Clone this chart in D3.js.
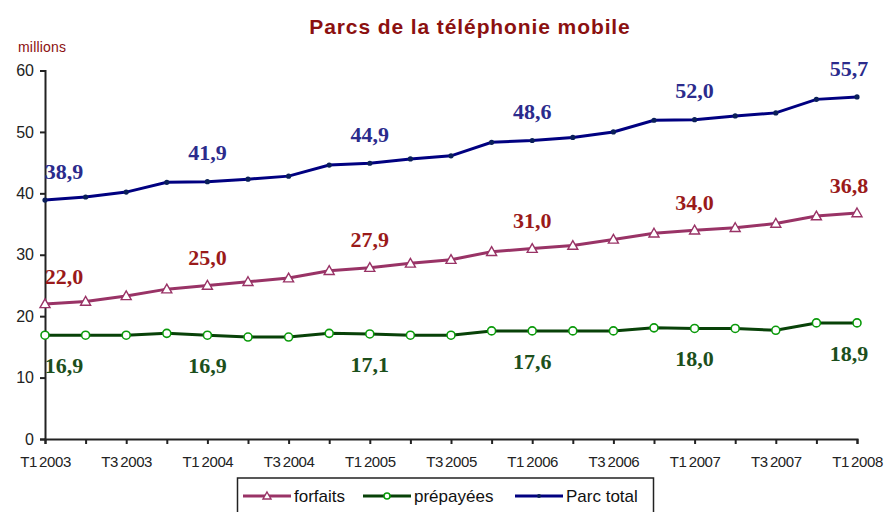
<!DOCTYPE html>
<html>
<head>
<meta charset="utf-8">
<script src="https://cdn.jsdelivr.net/npm/d3@7"></script>
<style>
  html, body { margin: 0; padding: 0; background: #fff; }
  svg { display: block; }
</style>
</head>
<body>
<div id="chart"></div>
<script>
// trimestres T1 2003 .. T1 2008
const quarters = ['T1 2003', 'T2 2003', 'T3 2003', 'T4 2003', 'T1 2004', 'T2 2004', 'T3 2004', 'T4 2004',
  'T1 2005', 'T2 2005', 'T3 2005', 'T4 2005', 'T1 2006', 'T2 2006', 'T3 2006', 'T4 2006',
  'T1 2007', 'T2 2007', 'T3 2007', 'T4 2007', 'T1 2008'];
const forfaits = [22.0, 22.4, 23.3, 24.4, 25.0, 25.6, 26.2, 27.4, 27.9, 28.6, 29.2,
  30.5, 31.0, 31.5, 32.5, 33.5, 34.0, 34.4, 35.1, 36.3, 36.8];
const prepayees = [16.9, 16.9, 16.9, 17.2, 16.9, 16.6, 16.6, 17.2, 17.1, 16.9, 16.9,
  17.6, 17.6, 17.6, 17.6, 18.1, 18.0, 18.0, 17.7, 18.9, 18.9];
const parcTotal = [38.9, 39.4, 40.2, 41.8, 41.9, 42.3, 42.8, 44.6, 44.9, 45.6, 46.1,
  48.3, 48.6, 49.1, 50.0, 51.9, 52.0, 52.6, 53.1, 55.3, 55.7];
const yTicks = [0, 10, 20, 30, 40, 50, 60];
const labelIdx = [0, 4, 8, 12, 16, 20];   // valeurs affichées : chaque T1

const W = 887, H = 512, mL = 45, mR = 30, mT = 70.5, mB = 73;
const FONT = 'Arial, "Liberation Sans", sans-serif';
const SERIF = '"Times New Roman", "Liberation Serif", serif';
const fmt = v => d3.format('.1f')(v).replace('.', ',');

const svg = d3.select('#chart').append('svg').attr('width', W).attr('height', H);
const x = d3.scalePoint().domain(d3.range(quarters.length)).range([mL, W - mR]);
const y = d3.scaleLinear().domain([0, 60]).range([H - mB, mT]);

svg.append('text').attr('x', 470).attr('y', 34).attr('text-anchor', 'middle')
  .attr('font-family', FONT).attr('font-weight', 700).attr('font-size', 21).attr('letter-spacing', 0.9)
  .attr('fill', '#8b1010').text('Parcs de la téléphonie mobile');
svg.append('text').attr('x', 18).attr('y', 52)
  .attr('font-family', FONT).attr('font-size', 14).attr('letter-spacing', 0.2)
  .attr('fill', '#8b1010').text('millions');

// axes
const yAxis = svg.append('g').attr('transform', `translate(${mL},0)`)
  .call(d3.axisLeft(y).tickValues(yTicks).tickSize(5).tickPadding(6).tickFormat(d3.format('d')));
const xAxis = svg.append('g').attr('transform', `translate(0,${H - mB})`)
  .call(d3.axisBottom(x).tickSize(5).tickPadding(12).tickFormat(i => i % 2 === 0 ? quarters[i] : ''));
[yAxis, xAxis].forEach(g => {
  g.select('.domain').attr('stroke', '#222').attr('stroke-width', 2);
  g.selectAll('.tick line').attr('stroke', '#222').attr('stroke-width', 2);
});
yAxis.selectAll('.tick text').attr('font-family', FONT).attr('font-size', 16).attr('fill', '#222');
xAxis.selectAll('.tick text').attr('font-family', FONT).attr('font-size', 15).attr('fill', '#222')
  .attr('letter-spacing', -0.4).attr('word-spacing', -1.5);

const series = [
  { name: 'forfaits', values: forfaits, line: '#993366', label: '#9a1a1a', marker: 'triangle', lblDy: -28 },
  { name: 'prépayées', values: prepayees, line: '#084208', label: '#1c4f1c', marker: 'circle', lblDy: 30 },
  { name: 'Parc total', values: parcTotal, line: '#000080', label: '#2b2b8c', marker: 'dot', lblDy: -29 }
];

const lineGen = d3.line().x((d, i) => x(i)).y(d => y(d));

function drawMarker(g, s, cx, cy, small) {
  if (s.marker === 'triangle') {
    const r = small ? 4 : 5;
    g.append('path').attr('d', `M${cx},${cy - r} L${cx + r},${cy + r * 0.75} L${cx - r},${cy + r * 0.75} Z`)
      .attr('fill', '#fff').attr('stroke', s.line).attr('stroke-width', 1.4);
  } else if (s.marker === 'circle') {
    g.append('circle').attr('cx', cx).attr('cy', cy).attr('r', small ? 3 : 4)
      .attr('fill', '#fff').attr('stroke', '#0a9a0a').attr('stroke-width', 1.6);
  } else {
    g.append('circle').attr('cx', cx).attr('cy', cy).attr('r', small ? 2 : 2.6).attr('fill', '#0a1f5a');
  }
}

series.forEach(s => {
  const g = svg.append('g');
  g.append('path').datum(s.values).attr('d', lineGen).attr('fill', 'none')
    .attr('stroke', s.line).attr('stroke-width', 3);
  s.values.forEach((v, i) => drawMarker(g, s, x(i), y(v), false));
  labelIdx.forEach(i => {
    const px = Math.min(Math.max(x(i), mL + 19), W - mR - 8);
    g.append('text').attr('x', px).attr('y', y(s.values[i]) + s.lblDy).attr('dy', '0.35em')
      .attr('text-anchor', 'middle').attr('font-family', SERIF).attr('font-weight', 700)
      .attr('font-size', 22).attr('fill', s.label).text(fmt(s.values[i]));
  });
});

// légende
const lg = svg.append('g');
lg.append('rect').attr('x', 237.5).attr('y', 478).attr('width', 416).attr('height', 44)
  .attr('fill', '#fff').attr('stroke', '#222').attr('stroke-width', 1.5);
const legendX = [243, 363, 515];
series.forEach((s, k) => {
  const x0 = legendX[k], ly = 496;
  lg.append('line').attr('x1', x0).attr('x2', x0 + 48).attr('y1', ly).attr('y2', ly)
    .attr('stroke', s.line).attr('stroke-width', 3);
  drawMarker(lg, s, x0 + 24, ly, true);
  lg.append('text').attr('x', x0 + 51).attr('y', ly).attr('dy', '0.35em')
    .attr('font-family', FONT).attr('font-size', 17).attr('fill', '#111').text(s.name);
});
</script>
</body>
</html>
